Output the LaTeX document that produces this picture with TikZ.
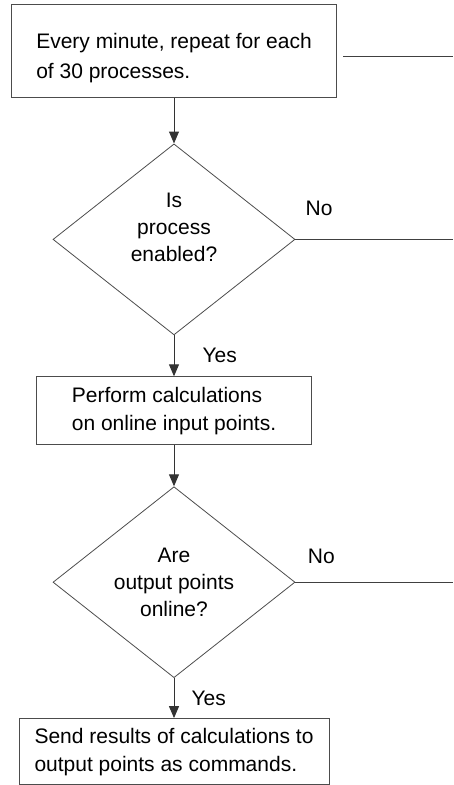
\documentclass[tikz,border=0pt]{standalone}
\usepackage{fontspec}
\setmainfont{Liberation Sans}
\usetikzlibrary{positioning, shapes.geometric, arrows.meta}

\begin{document}
\begin{tikzpicture}[
    % --- Styles ---
    stepbox/.style={
        rectangle, draw=black!70, line width=1pt, align=left, inner sep=0pt,
        font=\fontsize{21}{28}\selectfont
    },
    decision/.style={
        diamond, draw=black!70, line width=0.8pt, align=center, inner sep=0pt,
        minimum width=242pt, minimum height=191pt, font=\fontsize{21}{27}\selectfont
    },
    line/.style={
        draw=black!80, line width=1pt, -{Triangle[width=10pt,length=12pt]}
    },
    exitline/.style={
        draw=black!75, line width=1pt
    },
    answer/.style={
        font=\fontsize{21}{25}\selectfont, inner sep=0pt
    }
]

\useasboundingbox (0,0) rectangle (453pt,-785pt);
\coordinate (rightedge) at (453pt,0);

% --- 1. Loop over the processes ---
\node [stepbox, minimum width=325pt, minimum height=93pt, text height=60pt,
       font=\fontsize{21}{30}\selectfont] (everymin) at (174pt,-50.5pt)
      {Every minute, repeat for each\\of 30 processes.};

% --- 2. Checks and actions, one under the other ---
\node [decision, below=46pt of everymin, text depth=24pt] (enabled) {Is\\process\\enabled?};
\node [stepbox, below=41pt of enabled, minimum width=275pt, minimum height=68pt] (calc)
      {Perform calculations\\on online input points.};
\node [decision, below=41pt of calc] (online) {Are\\output points\\online?};
\node [stepbox, below=40pt of online, minimum width=310pt, minimum height=66pt] (send)
      {Send results of calculations to\\output points as commands.};

% --- Main flow ---
\draw [line] (everymin.south) -- (enabled.north);
\draw [line] (enabled.south) -- node[answer, right=28pt] {Yes} (calc.north);
\draw [line] (calc.south) -- (online.north);
\draw [line] (online.south) -- node[answer, right=17pt] {Yes} (send.north);

% --- Exits to the right ---
\coordinate (loopout) at ([xshift=6pt,yshift=-5.5pt]everymin.east);
\draw [exitline] (loopout) -- (loopout -| rightedge);
\draw [exitline] (enabled.east) -- node[answer, above=23pt, pos=0.15] {No} (enabled.east -| rightedge);
\draw [exitline] (online.east) -- node[answer, above=18pt, pos=0.165] {No} (online.east -| rightedge);

\end{tikzpicture}
\end{document}
